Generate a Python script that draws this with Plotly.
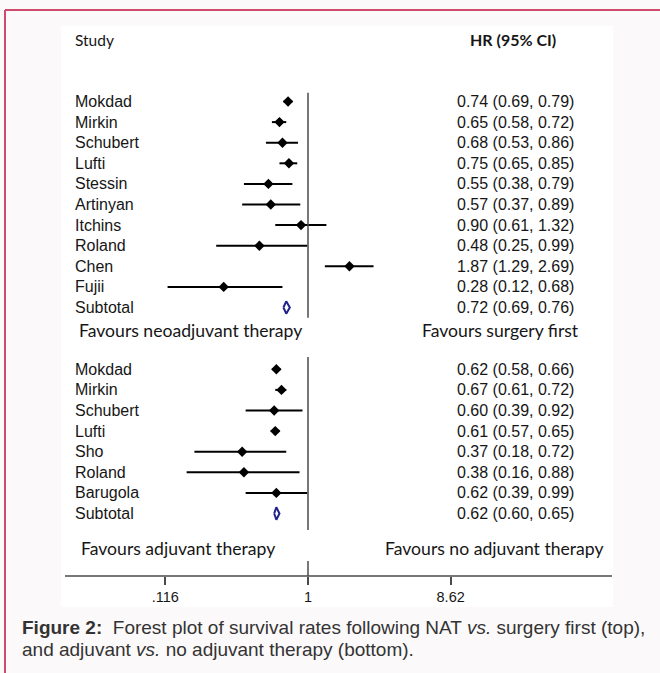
import math
import plotly.graph_objects as go

W, H = 660, 673

# Neoadjuvant therapy vs surgery first
neo_studies = ["Mokdad", "Mirkin", "Schubert", "Lufti", "Stessin", "Artinyan",
               "Itchins", "Roland", "Chen", "Fujii"]
neo_hr = [0.74, 0.65, 0.68, 0.75, 0.55, 0.57, 0.90, 0.48, 1.87, 0.28]
neo_lo = [0.69, 0.58, 0.53, 0.65, 0.38, 0.37, 0.61, 0.25, 1.29, 0.12]
neo_hi = [0.79, 0.72, 0.86, 0.85, 0.79, 0.89, 1.32, 0.99, 2.69, 0.68]
neo_sub = [0.72, 0.69, 0.76]  # HR, lower, upper

# Adjuvant vs no adjuvant therapy
adj_studies = ["Mokdad", "Mirkin", "Schubert", "Lufti", "Sho", "Roland", "Barugola"]
adj_hr = [0.62, 0.67, 0.60, 0.61, 0.37, 0.38, 0.62]
adj_lo = [0.58, 0.61, 0.39, 0.57, 0.18, 0.16, 0.39]
adj_hi = [0.66, 0.72, 0.92, 0.65, 0.72, 0.88, 0.99]
adj_sub = [0.62, 0.60, 0.65]

tick_vals = [0.116, 1, 8.62]
tick_text = [".116", "1", "8.62"]


def px(x):
    return x / W


def py(y):
    return 1 - y / H


# row layout (row index -> vertical pixel)
ROW0, DY = 101.5, 20.6
AXIS_Y = 576
neo_rows = list(range(len(neo_studies)))
neo_sub_row = len(neo_studies)
adj_start = neo_sub_row + 3
adj_rows = [adj_start + i for i in range(len(adj_studies))]
adj_sub_row = adj_start + len(adj_studies)

# log-scale x axis: value 1 at 308px, 152.5 px per decade
X1_PX, PX_DEC = 308, 152.5
xrange_log = [(0 - X1_PX) / PX_DEC, (W - X1_PX) / PX_DEC]
yrange = [(AXIS_Y - ROW0) / DY, (0 - ROW0) / DY]

NAME_FONT = dict(family="Liberation Sans, Arial", size=16, color="#161616")
LBL_FONT = dict(family="Lato, Open Sans", size=17.6, color="#161616")
HEAD_FONT = dict(family="Lato, Open Sans", size=15.5, color="#161616")

fig = go.Figure()


def add_studies(hr, lo, hi, rows):
    fig.add_trace(go.Scatter(
        x=hr, y=rows, mode="markers",
        marker=dict(symbol="diamond", size=8, color="black"),
        error_x=dict(type="data", symmetric=False,
                     array=[h - m for m, h in zip(hr, hi)],
                     arrayminus=[m - l for m, l in zip(hr, lo)],
                     thickness=2, width=0, color="black"),
        hoverinfo="skip", showlegend=False))


def add_pooled(sub, row):
    m, l, h = sub
    fig.add_trace(go.Scatter(
        x=[l, m, h, m, l], y=[row, row - 0.3, row, row + 0.3, row],
        mode="lines", line=dict(color="#22228a", width=2),
        hoverinfo="skip", showlegend=False))


add_studies(neo_hr, neo_lo, neo_hi, neo_rows)
add_pooled(neo_sub, neo_sub_row)
add_studies(adj_hr, adj_lo, adj_hi, adj_rows)
add_pooled(adj_sub, adj_sub_row)

annotations = []


def txt(x, y, text, font, anchor="left", yref="y", xref="paper"):
    annotations.append(dict(x=x, y=y, xref=xref, yref=yref, text=text,
                            showarrow=False, xanchor=anchor, yanchor="middle",
                            font=font))


def fmt(m, l, h):
    return f"{m:.2f} ({l:.2f}, {h:.2f})"


# headers
txt(px(73), -3, "Study", HEAD_FONT)
txt(px(513), -3, "<b>HR (95% CI)</b>", dict(HEAD_FONT, size=16), anchor="center")

# study rows
for names, hr, lo, hi, rows, sub, srow in [
        (neo_studies, neo_hr, neo_lo, neo_hi, neo_rows, neo_sub, neo_sub_row),
        (adj_studies, adj_hr, adj_lo, adj_hi, adj_rows, adj_sub, adj_sub_row)]:
    for n, m, l, h, r in zip(names, hr, lo, hi, rows):
        txt(px(73), r, n, NAME_FONT)
        txt(px(576), r, fmt(m, l, h), NAME_FONT, anchor="right")
    txt(px(73), srow, "Subtotal", NAME_FONT)
    txt(px(576), srow, fmt(*sub), NAME_FONT, anchor="right")

# direction labels
fav_top = neo_sub_row + 1.1
fav_bot = adj_sub_row + 1.7
txt(px(190), fav_top, "Favours neoadjuvant therapy", LBL_FONT, anchor="center")
txt(px(500), fav_top, "Favours surgery first", LBL_FONT, anchor="center")
txt(px(178), fav_bot, "Favours adjuvant therapy", LBL_FONT, anchor="center")
txt(px(494), fav_bot, "Favours no adjuvant therapy", LBL_FONT, anchor="center")

# caption
CAP_FONT = dict(family="Liberation Sans, Arial", size=19, color="#333333")
txt(px(20), py(627),
    "<b>Figure 2:</b>\u00a0 Forest plot of survival rates following NAT <i>vs.</i> surgery first (top),",
    CAP_FONT, yref="paper")
txt(px(20), py(649),
    "and adjuvant <i>vs.</i> no adjuvant therapy (bottom).",
    CAP_FONT, yref="paper")

GREY = "#4a4a4a"
shapes = [
    # white graph panel
    dict(type="rect", xref="paper", yref="paper", x0=px(61), x1=px(613),
         y0=py(607), y1=py(26), fillcolor="white", line=dict(width=0), layer="below"),
    # frame accents
    dict(type="line", xref="paper", yref="paper", x0=px(5), x1=1, y0=py(10), y1=py(10),
         line=dict(color="#cf4a6c", width=2)),
    dict(type="line", xref="paper", yref="paper", x0=px(5), x1=px(5), y0=py(10), y1=0,
         line=dict(color="#cf4a6c", width=2)),
    # null lines
    dict(type="line", xref="x", yref="y", x0=1, x1=1, y0=-0.42, y1=neo_sub_row + 0.5,
         line=dict(color=GREY, width=1.5)),
    dict(type="line", xref="x", yref="y", x0=1, x1=1, y0=adj_start - 0.6, y1=adj_sub_row + 0.8,
         line=dict(color=GREY, width=1.5)),
    # x axis baseline and upward tick at 1
    dict(type="line", xref="paper", yref="y domain", x0=px(65), x1=px(612), y0=0, y1=0,
         line=dict(color=GREY, width=1.5)),
    dict(type="line", xref="x", yref="paper", x0=1, x1=1, y0=py(AXIS_Y), y1=py(AXIS_Y - 15),
         line=dict(color=GREY, width=1.5)),
]

fig.update_layout(
    width=W, height=H,
    margin=dict(l=0, r=0, t=0, b=0),
    paper_bgcolor="#fcf9fa",
    plot_bgcolor="rgba(0,0,0,0)",
    xaxis=dict(type="log", range=xrange_log, domain=[0, 1],
               tickvals=tick_vals, ticktext=tick_text,
               ticks="outside", ticklen=8, tickwidth=1.5, tickcolor=GREY,
               showgrid=False, zeroline=False, showline=False,
               tickfont=dict(family="Liberation Sans, Arial", size=14.5, color="#161616")),
    yaxis=dict(range=yrange, domain=[py(AXIS_Y), 1], visible=False,
               showgrid=False, zeroline=False),
    shapes=shapes,
    annotations=annotations,
)

fig.write_html("out.html")
